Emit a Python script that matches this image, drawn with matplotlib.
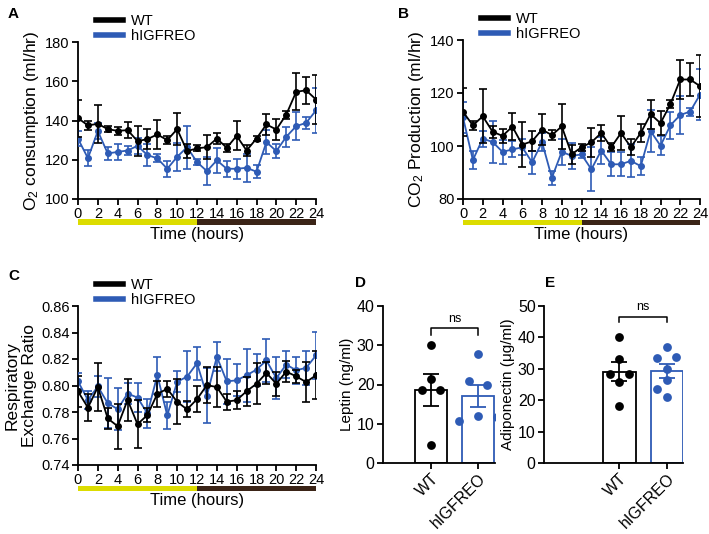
import numpy as np
import matplotlib
matplotlib.use('Agg')
import matplotlib.pyplot as plt
from matplotlib.patches import Rectangle
from matplotlib.lines import Line2D
import matplotlib.transforms as mtransforms

plt.rcParams['font.family'] = ['Liberation Sans', 'DejaVu Sans']
plt.rcParams['mathtext.fontset'] = 'custom'
plt.rcParams['mathtext.rm'] = 'Liberation Sans'
plt.rcParams['mathtext.it'] = 'Liberation Sans:italic'

BLUE = '#2E5BB5'
YELLOW = '#DCDC00'
BROWN = '#3B2417'

hours = list(range(25))

# panel A - O2 consumption (ml/hr)
o2_wt = [141.2, 137.5, 138.3, 135.6, 134.7, 135.1, 129.5, 130.5, 132.9, 130.0, 135.6, 124.4, 125.8,
         126.4, 130.8, 126.1, 132.2, 124.7, 130.8, 138.0, 135.4, 143.0, 154.6, 155.4, 150.7]
o2_wt_err = [9.5, 2.5, 9.7, 1.5, 2.0, 4.0, 7.6, 5.0, 7.5, 2.0, 8.0, 3.5, 1.5,
             6.0, 2.8, 2.0, 7.3, 3.0, 1.5, 5.4, 5.4, 2.0, 9.5, 6.8, 12.4]
o2_ko = [130.7, 120.8, 134.6, 123.2, 124.0, 124.7, 127.1, 122.4, 120.7, 115.4, 121.5, 126.4, 118.8,
         114.2, 119.7, 115.4, 115.4, 115.9, 113.9, 129.0, 124.4, 131.7, 137.1, 138.8, 145.1]
o2_ko_err = [3.7, 4.0, 4.0, 3.4, 4.2, 2.5, 4.0, 5.5, 2.0, 4.0, 7.0, 11.0, 1.5,
             7.3, 6.4, 4.2, 5.0, 7.0, 3.4, 6.0, 3.5, 5.0, 7.0, 3.0, 11.7]

# panel B - CO2 production (ml/hr)
co2_wt = [112.9, 107.8, 111.2, 105.4, 103.8, 107.3, 100.5, 101.8, 106.2, 104.1, 107.4, 96.9, 99.5,
          101.4, 104.9, 99.5, 104.9, 99.6, 104.9, 112.0, 108.6, 115.8, 125.1, 125.1, 122.6]
co2_wt_err = [9.0, 1.7, 10.2, 2.3, 2.5, 5.0, 8.5, 3.8, 5.9, 2.0, 8.5, 3.6, 1.3,
              5.5, 3.0, 1.5, 6.5, 3.0, 3.5, 5.4, 4.5, 1.5, 7.2, 6.4, 11.7]
co2_ko = [110.8, 94.7, 102.8, 101.5, 97.8, 98.7, 99.5, 93.8, 101.5, 88.0, 97.8, 96.3, 96.8,
          91.2, 98.3, 93.1, 93.1, 94.4, 92.4, 105.6, 100.1, 107.8, 111.7, 113.0, 119.4]
co2_ko_err = [5.9, 3.5, 3.0, 8.0, 4.5, 3.0, 3.0, 4.5, 3.5, 2.7, 5.0, 5.0, 1.5,
              8.3, 5.0, 4.6, 4.5, 6.2, 3.5, 8.0, 3.5, 5.0, 7.0, 1.5, 9.5]

# panel C - respiratory exchange ratio
rer_wt = [0.7955, 0.7833, 0.7988, 0.7751, 0.7693, 0.7891, 0.7708, 0.7777, 0.7937, 0.7975, 0.7876, 0.7820, 0.7897,
          0.8003, 0.7988, 0.7878, 0.7889, 0.7957, 0.8013, 0.8095, 0.8013, 0.8105, 0.8069, 0.8026, 0.8077]
rer_wt_err = [0.012, 0.010, 0.018, 0.008, 0.017, 0.016, 0.018, 0.005, 0.010, 0.006, 0.017, 0.006, 0.010,
              0.0137, 0.015, 0.006, 0.007, 0.011, 0.0155, 0.008, 0.009, 0.008, 0.005, 0.015, 0.018]
rer_ko = [0.8031, 0.7891, 0.7993, 0.7866, 0.7822, 0.7939, 0.7909, 0.7789, 0.8077, 0.7774, 0.8028, 0.8067, 0.8168,
          0.7924, 0.8217, 0.8031, 0.8039, 0.8077, 0.8120, 0.8189, 0.8056, 0.8158, 0.8115, 0.8133, 0.8227]
rer_ko_err = [0.006, 0.007, 0.008, 0.019, 0.016, 0.008, 0.011, 0.011, 0.014, 0.010, 0.008, 0.019, 0.0125,
              0.021, 0.011, 0.017, 0.012, 0.020, 0.012, 0.016, 0.016, 0.010, 0.010, 0.0127, 0.018]

# panels D / E - individual animals
groups = ['WT', 'hIGFREO']
leptin_wt = [30.1, 21.5, 18.5, 18.5, 4.7]
leptin_ko = [27.8, 21.0, 19.8, 11.9, 11.8, 10.6]
adipo_wt = [40.2, 33.0, 28.5, 28.5, 25.7, 18.3]
adipo_ko = [36.9, 33.3, 33.8, 30.0, 26.5, 23.5, 21.0]
# horizontal spread of the dots (swarm layout)
leptin_wt_dx = [0.0, 0.0, -0.2, 0.2, 0.0]
leptin_ko_dx = [0.0, -0.2, 0.2, 0.0, 0.4, -0.4]
adipo_wt_dx = [0.0, 0.0, -0.2, 0.2, 0.0, 0.0]
adipo_ko_dx = [0.0, -0.2, 0.2, 0.0, 0.0, -0.2, 0.0]

fig = plt.figure(figsize=(7.09, 5.34), dpi=100)
W, H = 709.0, 534.0


def px_axes(x0, y0, x1, y1):
    # axes from pixel box (top-left origin)
    return fig.add_axes([x0 / W, 1 - y1 / H, (x1 - x0) / W, (y1 - y0) / H])


def style(ax, size=10):
    for s in ['top', 'right']:
        ax.spines[s].set_visible(False)
    for s in ['left', 'bottom']:
        ax.spines[s].set_linewidth(1.3)
    ax.tick_params(width=1.3, length=4, labelsize=size, pad=2)


def time_panel(ax, wt, wt_err, ko, ko_err, ylim, yticks, ylabel):
    ax.errorbar(hours, ko, yerr=ko_err, color=BLUE, marker='o', ms=4, lw=1.3,
                elinewidth=1.2, capsize=3, capthick=1.2, zorder=3)
    ax.errorbar(hours, wt, yerr=wt_err, color='black', marker='o', ms=4, lw=1.3,
                elinewidth=1.2, capsize=3, capthick=1.2, zorder=4)
    ax.set_xlim(0, 24)
    ax.set_ylim(*ylim)
    ax.set_xticks(range(0, 25, 2))
    ax.set_yticks(yticks)
    style(ax, 10.5)
    ax.set_ylabel(ylabel, fontsize=12.5, labelpad=3)
    ax.set_xlabel('Time (hours)', fontsize=12, labelpad=4)
    trans = mtransforms.blended_transform_factory(ax.transData, ax.transAxes)
    ax.add_patch(Rectangle((0, -0.165), 12, 0.035, transform=trans, color=YELLOW,
                           clip_on=False, lw=0))
    ax.add_patch(Rectangle((12, -0.165), 12, 0.035, transform=trans, color=BROWN,
                           clip_on=False, lw=0))
    handles = [Line2D([], [], color='black', lw=4), Line2D([], [], color=BLUE, lw=4)]
    ax.legend(handles, ['WT', 'hIGFREO'], loc='lower left', bbox_to_anchor=(0.05, 0.955),
              frameon=False, fontsize=10.5, handlelength=1.9, labelspacing=0.1,
              handletextpad=0.5, borderaxespad=0)


axA = px_axes(78, 42, 316, 199)
time_panel(axA, o2_wt, o2_wt_err, o2_ko, o2_ko_err, (100, 180), [100, 120, 140, 160, 180],
           r'O$_2$ consumption (ml/hr)')

axB = px_axes(463, 40, 700, 199)
time_panel(axB, co2_wt, co2_wt_err, co2_ko, co2_ko_err, (80, 140), [80, 100, 120, 140],
           r'CO$_2$ Production (ml/hr)')

axC = px_axes(78, 306, 316, 465)
time_panel(axC, rer_wt, rer_wt_err, rer_ko, rer_ko_err, (0.74, 0.86),
           [0.74, 0.76, 0.78, 0.80, 0.82, 0.84, 0.86], 'Respiratory\nExchange Ratio')
axC.set_yticklabels(['%.2f' % v for v in axC.get_yticks()])


def bar_panel(ax, wt, ko, wt_dx, ko_dx, ylim, yticks, ylabel, ns_y, drop):
    xs = np.arange(len(groups))
    for i, (vals, dx, col) in enumerate([(wt, wt_dx, 'black'), (ko, ko_dx, BLUE)]):
        v = np.array(vals)
        m = v.mean()
        sem = v.std(ddof=1) / np.sqrt(len(v))
        ax.bar(xs[i], m, width=0.68, facecolor='white', edgecolor=col, lw=1.3, zorder=1)
        ax.errorbar(xs[i], m, yerr=sem, color=col, capsize=6, elinewidth=1.3,
                    capthick=1.3, zorder=2)
        ax.scatter(xs[i] + np.array(dx), v, s=40, color=col, zorder=3, lw=0)
    ax.plot([0, 0, 1, 1], [ns_y - drop, ns_y, ns_y, ns_y - drop], color='black', lw=1.1)
    ax.text(0.5, ns_y + drop * 0.6, 'ns', ha='center', va='bottom', fontsize=9)
    ax.set_ylim(*ylim)
    ax.set_yticks(yticks)
    ax.set_xticks(xs)
    ax.set_xticklabels(groups, rotation=45, ha='right', rotation_mode='anchor')
    style(ax, 11.5)
    ax.set_ylabel(ylabel, fontsize=11, labelpad=2)


axD = px_axes(383, 306, 495, 463)
bar_panel(axD, leptin_wt, leptin_ko, leptin_wt_dx, leptin_ko_dx, (0, 40), [0, 10, 20, 30, 40],
          'Leptin (ng/ml)', 34.3, 1.6)
axD.set_xlim(-1.02, 1.36)

axE = px_axes(544, 306, 683, 463)
bar_panel(axE, adipo_wt, adipo_ko, adipo_wt_dx, adipo_ko_dx, (0, 50), [0, 10, 20, 30, 40, 50],
          u'Adiponectin (\u03bcg/ml)', 46.6, 1.8)
axE.set_xlim(-1.59, 1.34)

for lab, x, y in [('A', 8, 14), ('B', 398, 14), ('C', 8, 276), ('D', 355, 283), ('E', 545, 283)]:
    fig.text(x / W, 1 - y / H, lab, fontsize=11, fontweight='bold', va='center', ha='left')

fig.savefig('out.png', dpi=100)
